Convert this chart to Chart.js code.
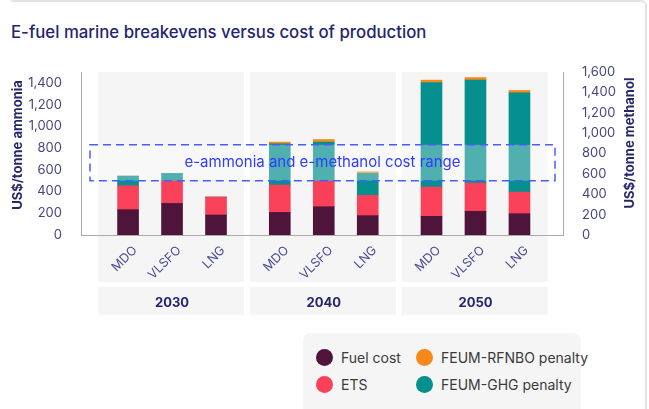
<!DOCTYPE html>
<html>
<head>
<meta charset="utf-8">
<script src="https://cdn.jsdelivr.net/npm/chart.js@4"></script>
<style>
  body { margin: 0; width: 649px; height: 409px; overflow: hidden; background: #fff; font-family: Inter, sans-serif; position: relative; }
  .frame { position: absolute; left: 11px; top: 0; right: 2px; height: 430px; border-top: 2px solid #e4e4e4; border-right: 2px solid #e4e4e4; border-top-right-radius: 6px; }
  h1 { position: absolute; left: 11px; top: 22px; margin: 0; font-size: 16.8px; font-weight: 500; color: #25256f; }
  #wrap { position: absolute; left: 0; top: 0; width: 649px; height: 320px; }
  #legend { position: absolute; left: 303px; top: 333px; width: 278px; height: 90px; box-sizing: border-box; padding: 11px 0 0 13px;
    background: #f5f5f5; border-radius: 8px; display: grid; grid-template-rows: 27px 27px; grid-template-columns: 100px 165px; grid-auto-flow: column; }
  .item { display: flex; align-items: center; font-size: 14px; color: #3a3a3a; white-space: nowrap; }
  .dot { width: 17px; height: 17px; border-radius: 50%; margin-right: 8px; flex: none; }
</style>
</head>
<body>
<div class="frame"></div>
<h1>E-fuel marine breakevens versus cost of production</h1>
<div id="wrap"><canvas id="chart"></canvas></div>
<div id="legend"></div>
<script>
const years = ['2030', '2040', '2050'];
const fuels = ['MDO', 'VLSFO', 'LNG'];
// US$/tonne ammonia, order: 2030 MDO, VLSFO, LNG, 2040 ..., 2050 ...
const fuelCost = [233, 291, 184, 208, 260, 178, 172, 218, 196];
const ets = [220, 208, 165, 252, 236, 187, 269, 260, 199];
const ghgPenalty = [89, 68, 0, 379, 359, 202, 962, 947, 913];
const rfnboPenalty = [0, 0, 0, 16, 24, 15, 22, 24, 22];
const costRange = [500, 830];

const GROUP_STEP = 3.45;
const slots = [];
years.forEach((y, g) => fuels.forEach((f, i) => slots.push(g * GROUP_STEP + i)));

const series = [
  { label: 'Fuel cost', values: fuelCost, color: '#4e1439' },
  { label: 'ETS', values: ets, color: '#f9425a' },
  { label: 'FEUM-GHG penalty', values: ghgPenalty, color: '#058f8f' },
  { label: 'FEUM-RFNBO penalty', values: rfnboPenalty, color: '#f7891b' }
];
const legendOrder = ['Fuel cost', 'ETS', 'FEUM-RFNBO penalty', 'FEUM-GHG penalty'];

const axisColor = '#a9a9a9';
const tickColor = '#46467f';
const titleColor = '#27276b';

const overlay = {
  id: 'overlay',
  beforeDraw(chart) {
    const { ctx, chartArea, scales: { x, xYear } } = chart;
    ctx.save();
    ctx.fillStyle = '#f5f5f5';
    years.forEach((yr, g) => {
      const l = x.getPixelForValue(g * GROUP_STEP - 0.68);
      const r = x.getPixelForValue(g * GROUP_STEP + 2.64);
      ctx.fillRect(l, chartArea.top, r - l, x.bottom - chartArea.top);
      ctx.fillRect(l, xYear.top + 5, r - l, xYear.bottom - xYear.top - 5);
    });
    ctx.restore();
  },
  afterDatasetsDraw(chart) {
    const { ctx, chartArea, scales: { y } } = chart;
    const top = y.getPixelForValue(costRange[1]);
    const bottom = y.getPixelForValue(costRange[0]);
    const l = chartArea.left + 9, r = chartArea.right - 8;
    ctx.save();
    ctx.fillStyle = 'rgba(255,255,255,0.3)';
    ctx.fillRect(l, top, r - l, bottom - top);
    ctx.setLineDash([8, 5]);
    ctx.lineWidth = 1.5;
    ctx.strokeStyle = '#4a5cff';
    ctx.strokeRect(l, top, r - l, bottom - top);
    ctx.fillStyle = '#2f3cff';
    ctx.font = '15px Inter, sans-serif';
    ctx.textAlign = 'center';
    ctx.textBaseline = 'middle';
    ctx.fillText('e-ammonia and e-methanol cost range', (l + r) / 2, (top + bottom) / 2);
    ctx.restore();
  },
  afterDraw(chart) {
    const { ctx } = chart;
    ctx.save();
    ctx.fillStyle = titleColor;
    ctx.font = 'bold 13px Inter, sans-serif';
    ctx.textAlign = 'center';
    ctx.textBaseline = 'middle';
    [['US$/tonne ammonia', 18, 145], ['US$/tonne methanol', 630, 143]].forEach(([t, cx, cy]) => {
      ctx.save();
      ctx.translate(cx, cy);
      ctx.rotate(-Math.PI / 2);
      ctx.fillText(t, 0, 0);
      ctx.restore();
    });
    ctx.restore();
  }
};

const chart = new Chart(document.getElementById('chart'), {
  type: 'bar',
  data: {
    datasets: series.map(s => ({
      label: s.label,
      data: slots.map((x, i) => ({ x, y: s.values[i] })),
      backgroundColor: s.color,
      barThickness: 21,
      yAxisID: 'y'
    }))
  },
  options: {
    responsive: true,
    maintainAspectRatio: false,
    animation: false,
    layout: { padding: { top: 72, left: 0, right: 0, bottom: 5 } },
    plugins: { legend: { display: false }, tooltip: { enabled: false } },
    scales: {
      x: {
        type: 'linear', min: -1.07, max: 9.89, stacked: true, position: 'bottom', weight: 0,
        offset: false,
        grid: { display: false, offset: false },
        border: { display: true, color: axisColor },
        afterBuildTicks: s => { s.ticks = slots.map(v => ({ value: v })); },
        ticks: {
          autoSkip: false, minRotation: 45, maxRotation: 45, padding: 0, labelOffset: 7,
          color: '#4b4b92', font: { family: 'Inter', size: 12.5 },
          callback: (v, i) => fuels[i % fuels.length]
        },
        afterFit: s => { s.height = 47; }
      },
      xYear: {
        type: 'linear', min: -1.07, max: 9.89, position: 'bottom', weight: 1,
        offset: false,
        grid: { display: false, offset: false },
        border: { display: false },
        afterBuildTicks: s => { s.ticks = years.map((yr, g) => ({ value: g * GROUP_STEP + 1 })); },
        ticks: {
          autoSkip: false, minRotation: 0, maxRotation: 0, padding: 5,
          color: '#24246e', font: { family: 'Inter', size: 13, weight: 'bold' },
          callback: (v, i) => years[i]
        },
        afterFit: s => { s.height = 33; }
      },
      y: {
        position: 'left', min: 0, max: 1500, stacked: true,
        grid: { display: false },
        border: { display: true, color: axisColor },
        ticks: { stepSize: 200, includeBounds: false, padding: 11, color: tickColor, font: { family: 'Inter', size: 13 } },
        afterFit: s => { s.width = 81; }
      },
      y2: {
        position: 'right', min: 0, max: 1600,
        grid: { display: false },
        border: { display: true, color: axisColor },
        ticks: { stepSize: 200, padding: 11, color: tickColor, font: { family: 'Inter', size: 13 } },
        afterFit: s => { s.width = 86; }
      }
    }
  },
  plugins: [overlay]
});

// legend built from the datasets
const legend = document.getElementById('legend');
legendOrder.forEach(name => {
  const s = series.find(d => d.label === name);
  const item = document.createElement('div');
  item.className = 'item';
  item.innerHTML = `<span class="dot" style="background:${s.color}"></span>${s.label}`;
  legend.appendChild(item);
});
</script>
</body>
</html>
